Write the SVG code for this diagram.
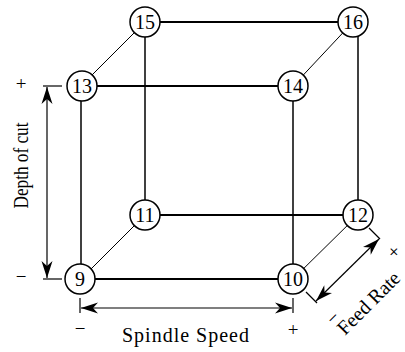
<svg xmlns="http://www.w3.org/2000/svg" width="405" height="352" viewBox="0 0 405 352">
  <style>
    .edge { stroke: #000; fill: none; }
    .h { stroke-width: 2; }
    .v { stroke-width: 1.5; }
    .d { stroke-width: 1; }
    .node circle { fill: #fff; stroke: #000; stroke-width: 1.5; }
    .node text, .lbl { font-family: "Liberation Serif", "Times New Roman", serif; font-size: 20px; fill: #000; }
    .node text { text-anchor: middle; }
    .sign { font-family: "Liberation Serif", "Times New Roman", serif; font-size: 19px; text-anchor: middle; fill: #000; }
    .dim { stroke: #000; stroke-width: 1.2; fill: none; }
    .arrow { stroke: #000; stroke-width: 1.2; fill: none; marker-start: url(#head); marker-end: url(#head); }
  </style>
  <defs>
    <marker id="head" markerUnits="userSpaceOnUse" viewBox="-18 -6 19 12" markerWidth="19" markerHeight="12" refX="0" refY="0" orient="auto-start-reverse">
      <path d="M0,0 L-17,-5.5 L-12,0 L-17,5.5 Z" fill="#000"/>
    </marker>
  </defs>

  <!-- cube edges -->
  <g id="connectors">
    <line class="edge h" x1="145" y1="22" x2="353" y2="22"/>
    <line class="edge h" x1="81" y1="86" x2="293" y2="86"/>
    <line class="edge h" x1="145" y1="215" x2="358" y2="215"/>
    <line class="edge h" x1="81" y1="279" x2="293" y2="279"/>
    <line class="edge v" x1="81" y1="86" x2="81" y2="279"/>
    <line class="edge v" x1="145" y1="22" x2="145" y2="215"/>
    <line class="edge v" x1="293" y1="86" x2="293" y2="279"/>
    <line class="edge v" x1="358" y1="30" x2="358" y2="215"/>
    <line class="edge d" x1="81" y1="86" x2="145" y2="22"/>
    <line class="edge d" x1="293" y1="86" x2="353" y2="22"/>
    <line class="edge d" x1="81" y1="279" x2="145" y2="215"/>
    <line class="edge d" x1="293" y1="279" x2="358" y2="215"/>
  </g>

  <!-- cube corners -->
  <g id="n15" class="node"><circle cx="145" cy="22" r="15"/><text x="145" y="29">15</text></g>
  <g id="n16" class="node"><circle cx="353" cy="22" r="15"/><text x="353" y="29">16</text></g>
  <g id="n13" class="node"><circle cx="82" cy="86" r="15"/><text x="82" y="93">13</text></g>
  <g id="n14" class="node"><circle cx="293" cy="86" r="15"/><text x="293" y="93">14</text></g>
  <g id="n11" class="node"><circle cx="145" cy="215" r="15"/><text x="145" y="222">11</text></g>
  <g id="n12" class="node"><circle cx="358" cy="215" r="15"/><text x="358" y="222">12</text></g>
  <g id="n9" class="node"><circle cx="80" cy="279" r="15"/><text x="80" y="286">9</text></g>
  <g id="n10" class="node"><circle cx="293" cy="279" r="15"/><text x="293" y="286">10</text></g>

  <!-- depth of cut axis -->
  <g id="depth-axis">
    <line class="dim" x1="43" y1="86" x2="62" y2="86"/>
    <line class="dim" x1="43" y1="279" x2="62" y2="279"/>
    <line class="arrow" x1="47" y1="87" x2="47" y2="278"/>
    <text class="sign" x="21" y="90">+</text>
    <text class="sign" x="21" y="283">−</text>
    <text class="lbl" x="28" y="165.5" text-anchor="middle" textLength="86" lengthAdjust="spacingAndGlyphs" transform="rotate(-90 28 165.5)">Depth of cut</text>
  </g>

  <!-- spindle speed axis -->
  <g id="spindle-axis">
    <line class="dim" x1="80" y1="298" x2="80" y2="313"/>
    <line class="dim" x1="293" y1="298" x2="293" y2="313"/>
    <line class="arrow" x1="81" y1="308" x2="292" y2="308"/>
    <text class="sign" x="80" y="335">−</text>
    <text class="sign" x="293" y="336">+</text>
    <text class="lbl" x="122" y="342" textLength="127" lengthAdjust="spacing">Spindle Speed</text>
  </g>

  <!-- feed rate axis -->
  <g id="feed-axis">
    <line class="dim" x1="306" y1="292" x2="317" y2="303"/>
    <line class="dim" x1="369" y1="228" x2="380" y2="239"/>
    <line class="arrow" x1="316" y1="301" x2="379" y2="239"/>
    <text class="sign" x="394" y="258" transform="rotate(-45 394 252)">+</text>
    <text class="sign" x="333" y="324" transform="rotate(-45 333 318)">−</text>
    <text class="lbl" x="345" y="336" textLength="80" lengthAdjust="spacing" transform="rotate(-45 345 336)">Feed Rate</text>
  </g>
</svg>
